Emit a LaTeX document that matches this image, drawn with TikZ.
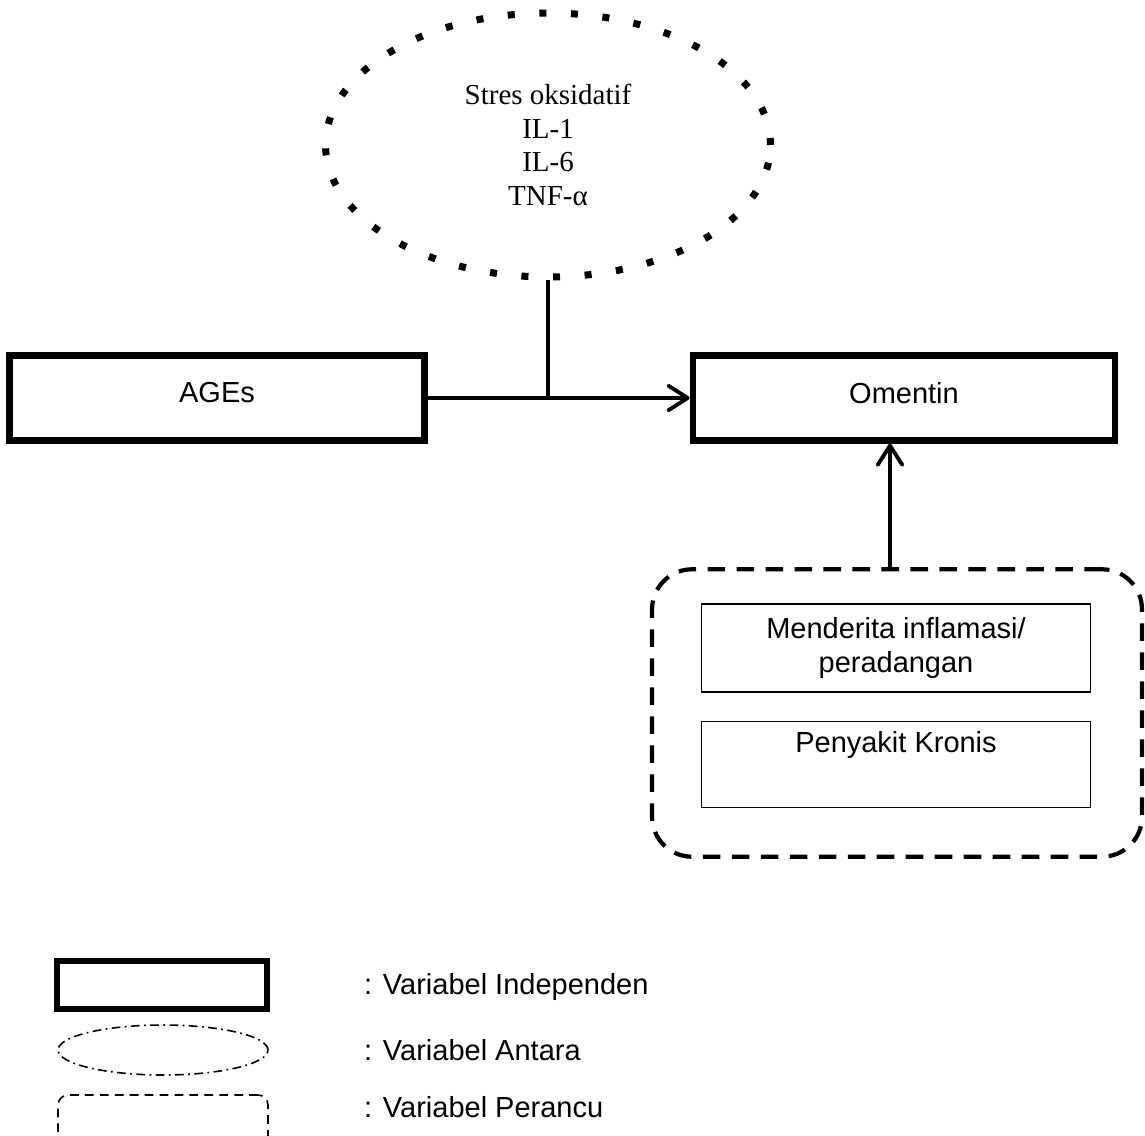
\documentclass[tikz,border=0pt]{standalone}
\usepackage{fontspec}
\setmainfont{Liberation Sans}
\newfontfamily\timesfont{Liberation Serif}
\usetikzlibrary{shapes.geometric,arrows.meta,positioning}

\begin{document}
\begin{tikzpicture}[x=0.02cm, y=-0.02cm,
    indep/.style={rectangle, draw=black, line width=3.6pt, minimum width=8.3cm, minimum height=1.7cm, font=\fontsize{16.5}{19}\selectfont},
    antara/.style={ellipse, draw=black, line width=4pt, dash pattern=on 4pt off 14pt, minimum width=8.9cm, minimum height=5.28cm, align=center, font=\timesfont\fontsize{16.5}{19}\selectfont},
    perancu/.style={rectangle, draw=black, line width=2.4pt, dash pattern=on 10pt off 6.5pt, rounded corners=0.8cm, minimum width=9.8cm, minimum height=5.75cm},
    faktor/.style={rectangle, draw=black, line width=0.6pt, minimum width=7.78cm, align=center, font=\fontsize{16.5}{19.3}\selectfont},
    panah/.style={line width=2.6pt, -{Straight Barb[length=11pt, width=14pt, line width=2.2pt, round]}},
    garis/.style={line width=2.6pt},
    ket/.style={right, font=\fontsize{16.5}{19}\selectfont}
]
\clip (0,0) rectangle (1145,1135);
\useasboundingbox (0,0) rectangle (1145,1135);

% Intermediate variables - top
\node[antara] (ell) at (548,145) {Stres oksidatif\\IL-1\\IL-6\\TNF-α};

% Main variables
\node[indep] (ages) at (217,398) {\raisebox{6pt}{AGEs}};
\node[indep, minimum width=8.45cm] (omentin) at (904,398) {\raisebox{6pt}{Omentin}};

% Confounders
\node[perancu] (perancu) at (897,713) {};
\node[faktor, minimum height=1.76cm] (inflamasi) at (896,648) {Menderita inflamasi/\\peradangan};
\node[faktor, minimum height=1.72cm, anchor=north, inner sep=5pt] (kronis) at (896,721) {Penyakit Kronis\\\strut};

% Connections
\coordinate (jn) at (ell.south |- ages.east);
\draw[panah] (ages) -- (omentin);
\draw[garis] (ell.south) -- (jn);
\draw[panah] (perancu.north -| 890,0) -- (omentin.south -| 890,0);

% Legend
\node[rectangle, draw=black, line width=3.2pt, minimum width=4.2cm, minimum height=0.95cm] (lg1) at (162,985) {};
\node[ket] (lt1) at (358,987) {: Variabel Independen};
\node[ellipse, draw=black, line width=0.9pt, dash pattern=on 5pt off 2.5pt on 1pt off 2.5pt, minimum width=4.2cm, minimum height=1cm] (lg2) at (163,1050) {};
\node[ket] (lt2) at (358,1050) {: Variabel Antara};
\node[rectangle, draw=black, line width=0.9pt, dash pattern=on 5pt off 3.5pt, rounded corners=0.2cm, minimum width=4.2cm, minimum height=1.4cm] (lg3) at (163,1130) {};
\node[ket] (lt3) at (358,1107) {: Variabel Perancu};

\end{tikzpicture}
\end{document}
